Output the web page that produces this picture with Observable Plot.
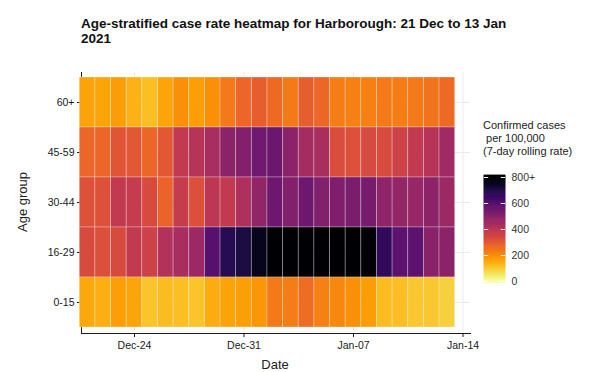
<!DOCTYPE html>
<html>
<head>
<meta charset="utf-8">
<script src="https://cdn.jsdelivr.net/npm/d3@7"></script>
<script src="https://cdn.jsdelivr.net/npm/@observablehq/plot@0.6"></script>
<style>
  html, body { margin: 0; padding: 0; background: #fff; }
  #root { position: relative; width: 589px; height: 372px; font-family: "Liberation Sans", Arial, sans-serif; color: #222; overflow: hidden; }
  #root svg { position: absolute; }
  .abs { position: absolute; white-space: nowrap; }
</style>
</head>
<body>
<div id="root">
  <div class="abs" id="title" style="left:81px;top:16px;font-weight:bold;font-size:13.5px;line-height:15px;color:#111;">Age-stratified case rate heatmap for Harborough: 21 Dec to 13 Jan<br>2021</div>
  <div class="abs" id="xlab" style="left:275px;top:357px;font-size:13px;transform:translateX(-50%);color:#222;">Date</div>
  <div class="abs" id="ylab" style="left:22px;top:202px;font-size:13px;transform:translate(-50%,-50%) rotate(-90deg);color:#222;">Age group</div>
  <div class="abs" id="legtitle" style="left:483px;top:119px;font-size:11px;line-height:13px;color:#222;">Confirmed cases<br>&nbsp;per 100,000<br>(7-day rolling rate)</div>
</div>
<script>
// ---- data ----
const dates = ["2020-12-21","2020-12-22","2020-12-23","2020-12-24","2020-12-25","2020-12-26","2020-12-27","2020-12-28",
  "2020-12-29","2020-12-30","2020-12-31","2021-01-01","2021-01-02","2021-01-03","2021-01-04","2021-01-05",
  "2021-01-06","2021-01-07","2021-01-08","2021-01-09","2021-01-10","2021-01-11","2021-01-12","2021-01-13"];
const ageGroups = ["60+", "45-59", "30-44", "16-29", "0-15"];
const rate60plus = [165,160,175,140,120,160,195,170,195,235,275,290,265,235,290,270,230,225,225,235,230,235,250,265];
const rate45to59 = [275,275,310,305,275,305,385,410,440,495,510,550,560,495,445,440,330,320,340,335,360,385,410,455];
const rate30to44 = [320,320,385,380,335,280,380,325,400,385,430,485,555,515,555,515,520,530,535,490,480,475,495,460];
const rate16to29 = [335,325,335,385,360,420,440,460,600,690,710,760,850,900,880,870,860,840,790,670,590,590,500,495];
const rate0to15  = [155,145,170,160,110,125,120,110,150,165,170,185,235,230,260,225,210,195,175,125,120,105,105,90];
const xTickDates = ["2020-12-24","2020-12-31","2021-01-07","2021-01-14"];
const legendTicks = [0, 200, 400, 600, 800];
const legendTickLabels = ["0", "200", "400", "600", "800+"];

// ---- table ----
const seriesByAge = {"60+": rate60plus, "45-59": rate45to59, "30-44": rate30to44, "16-29": rate16to29, "0-15": rate0to15};
const table = [];
for (const age of ageGroups) {
  seriesByAge[age].forEach((v, i) => table.push({date: new Date(dates[i] + "T00:00Z"), age, rate: v}));
}
const xTicks = xTickDates.map(s => new Date(s + "T00:00Z"));
const xDomain = [new Date("2020-12-20T14:40Z"), new Date("2021-01-14T11:30Z")];
const colorOpts = {type: "linear", scheme: "inferno", reverse: true, domain: [0, 800], clamp: true};

const chart = Plot.plot({
  width: 589, height: 372,
  marginTop: 72, marginBottom: 39, marginLeft: 81, marginRight: 119,
  style: {fontFamily: "Liberation Sans, Arial, sans-serif", fontSize: "10.5px", color: "#1a1a1a", background: "transparent"},
  x: {type: "utc", domain: xDomain, ticks: xTicks, tickFormat: d3.utcFormat("%b-%d"), tickSize: 4, tickPadding: 4, label: null, line: true},
  y: {type: "band", domain: ageGroups, padding: 0, insetTop: 3, insetBottom: 5, tickSize: 4, tickPadding: 3, label: null, line: true},
  color: colorOpts,
  marks: [
    Plot.gridY({stroke: "#ebebeb", strokeOpacity: 1}),
    Plot.gridX(xTicks, {stroke: "#ebebeb", strokeOpacity: 1}),
    Plot.barX(table, {
      x1: d => d3.utcHour.offset(d.date, -12),
      x2: d => d3.utcHour.offset(d.date, 12),
      y: "age", fill: "rate",
      stroke: "white", strokeOpacity: 0.35, strokeWidth: 0.8
    })
  ]
});
chart.style.left = "0px"; chart.style.top = "0px";
document.getElementById("root").appendChild(chart);

// ---- legend colourbar ----
const barSteps = d3.range(-12, 816, 4);
const legend = Plot.plot({
  width: 60, height: 125,
  marginTop: 12, marginBottom: 9, marginLeft: 1, marginRight: 38,
  style: {fontFamily: "Liberation Sans, Arial, sans-serif", fontSize: "10.5px", color: "#333", background: "transparent"},
  x: {domain: [0, 1], axis: null},
  y: {domain: [0, 800], axis: "right", ticks: legendTicks, tickFormat: d => legendTickLabels[legendTicks.indexOf(d)], tickSize: 0, tickPadding: 6, label: null},
  color: colorOpts,
  marks: [
    Plot.rect(barSteps, {x1: 0, x2: 1, y1: d => d, y2: d => d + 4, fill: d => d + 2, stroke: d => d + 2, strokeWidth: 0.6}),
    Plot.ruleY(legendTicks, {x1: 0, x2: 0.2, stroke: "white", strokeWidth: 1}),
    Plot.ruleY(legendTicks, {x1: 0.8, x2: 1, stroke: "white", strokeWidth: 1})
  ]
});
legend.style.left = "483px"; legend.style.top = "165px";
document.getElementById("root").appendChild(legend);
</script>
</body>
</html>
